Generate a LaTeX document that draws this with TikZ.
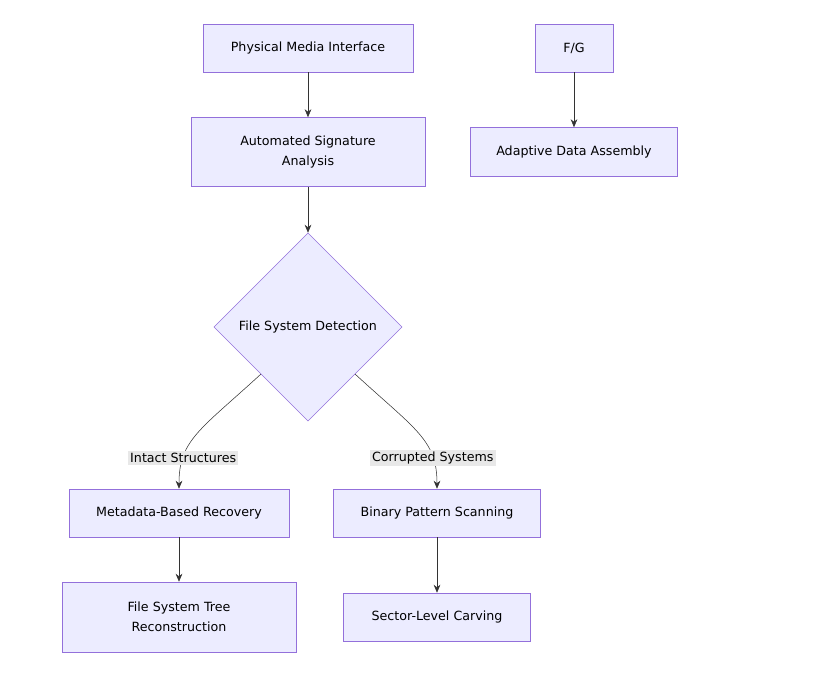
\documentclass[tikz,border=0pt]{standalone}
\usepackage{fontspec}
\setmainfont{DejaVu Sans}
\definecolor{boxfill}{HTML}{ECECFF}
\definecolor{boxline}{HTML}{9370DB}
\definecolor{edgecol}{HTML}{333333}
\definecolor{labelbg}{HTML}{E8E8E8}
\usetikzlibrary{arrows.meta,positioning,shapes.geometric}

\begin{document}
\begin{tikzpicture}[x=0.75pt,y=-0.75pt,
    box/.style={draw=boxline,fill=boxfill,align=center,font=\fontsize{9.5}{15}\selectfont,inner sep=0pt},
    edge/.style={draw=edgecol,-{Stealth[length=6pt,width=5pt]}},
    tag/.style={fill=labelbg,font=\fontsize{9.5}{12}\selectfont,inner sep=1.5pt}]
    \useasboundingbox (0,0) rectangle (825,684);

    % Top row
    \node[box,minimum width=210*0.75pt,minimum height=48*0.75pt] (media) at (308,48) {Physical Media Interface};
    \node[box,minimum width=78*0.75pt,minimum height=48*0.75pt] (fg) at (574,48) {F/G};
    \node[box,minimum width=234*0.75pt,minimum height=69*0.75pt] (sig) at (308,152) {Automated Signature\\Analysis};
    \node[box,minimum width=207*0.75pt,minimum height=49*0.75pt] (assembly) at (574,152) {Adaptive Data Assembly};

    % Decision
    \node[box,diamond,minimum width=188*0.75pt,minimum height=188*0.75pt] (detect) at (308,327) {File System Detection};

    % Branches
    \node[box,minimum width=220*0.75pt,minimum height=48*0.75pt] (meta) at (179,513) {Metadata-Based Recovery};
    \node[box,minimum width=207*0.75pt,minimum height=48*0.75pt] (scan) at (437,513) {Binary Pattern Scanning};
    \node[box,minimum width=234*0.75pt,minimum height=70*0.75pt] (tree) at (179,617) {File System Tree\\Reconstruction};
    \node[box,minimum width=187*0.75pt,minimum height=48*0.75pt] (carve) at (437,617) {Sector-Level Carving};

    % Connections
    \draw[edge] (media) -- (sig);
    \draw[edge] (fg) -- (assembly);
    \draw[edge] (sig) -- (detect);
    \draw[edge] (detect.south west) .. controls (200,430) and (179,440) .. node[tag,pos=0.75] {Intact Structures} (meta.north);
    \draw[edge] (detect.south east) .. controls (416,430) and (437,440) .. node[tag,pos=0.75] {Corrupted Systems} (scan.north);
    \draw[edge] (meta) -- (tree);
    \draw[edge] (scan) -- (carve);
\end{tikzpicture}
\end{document}
